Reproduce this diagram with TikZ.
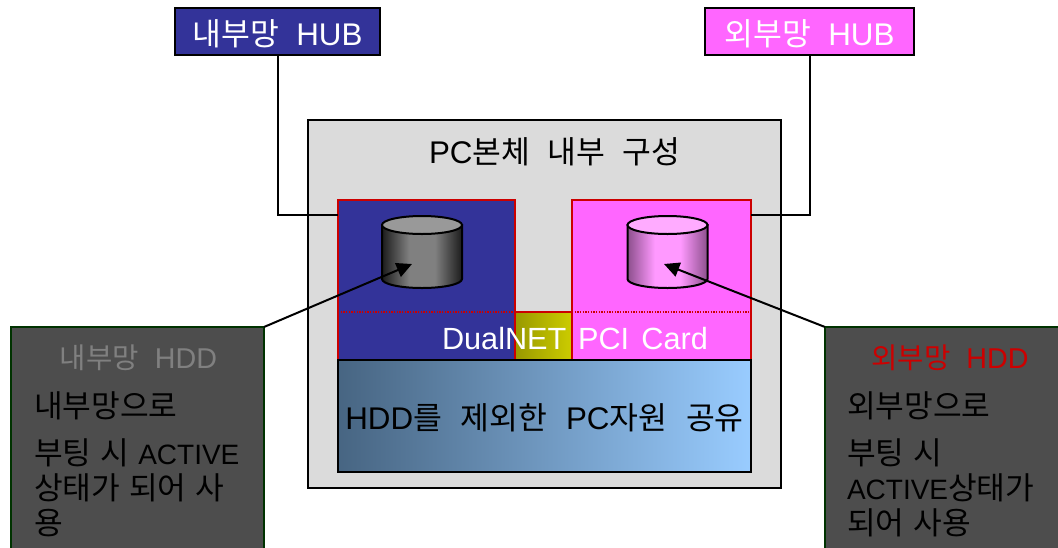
\documentclass[tikz,border=0pt]{standalone}
\usepackage{fontspec}
\setmainfont[WordSpace=2]{Liberation Sans}
\newfontfamily\krfont[WordSpace=2.5]{Noto Sans CJK KR}
\newfontfamily\krnotefont[WordSpace=1.3]{Noto Sans CJK KR}
\newcommand{\kr}[1]{{\krfont #1}}
\newcommand{\krn}[1]{{\fontsize{23.4}{26}\krnotefont #1}}
\newcommand{\latn}[1]{{\fontsize{21}{26}\selectfont #1}}
\usepackage{tikz}
\usetikzlibrary{arrows.meta}
\usetikzlibrary{shapes}

\definecolor{netblue}{HTML}{333399}
\definecolor{netpink}{HTML}{FF66FF}
\definecolor{cardred}{HTML}{CC0000}
\definecolor{boxgrey}{HTML}{4D4D4D}
\definecolor{boxedge}{HTML}{003300}
\definecolor{hddgreyend}{HTML}{1C1C1C}
\definecolor{hddgreymid}{HTML}{808080}
\definecolor{hddpinkend}{HTML}{8C4F8C}
\definecolor{hddpinkmid}{HTML}{FF99FF}
\pgfdeclarehorizontalshading{hddgrey}{100bp}{color(0bp)=(hddgreyend); color(25bp)=(hddgreyend); color(42bp)=(hddgreymid); color(58bp)=(hddgreymid); color(75bp)=(hddgreyend); color(100bp)=(hddgreyend)}
\pgfdeclarehorizontalshading{hddpink}{100bp}{color(0bp)=(hddpinkend); color(25bp)=(hddpinkend); color(42bp)=(hddpinkmid); color(58bp)=(hddpinkmid); color(75bp)=(hddpinkend); color(100bp)=(hddpinkend)}

\begin{document}
\begin{tikzpicture}[x=0.75pt,y=-0.75pt,>={Stealth[length=11.5pt,width=11pt,inset=0pt]},semithick]
\tikzstyle{every node}=[inner sep=0pt,outer sep=0pt,font=\fontsize{23.5}{26}\selectfont]
\tikzstyle{hub}=[draw=black,line width=1.5pt,minimum height=35.25pt,text=white,text height=21pt,text depth=0pt]
\tikzstyle{card}=[draw=cardred,line width=1.5pt,minimum height=120pt]
\tikzstyle{hddbox}=[draw=boxedge,line width=1pt,fill=boxgrey,minimum height=180pt]
\tikzstyle{hddbody}=[minimum width=60pt,minimum height=40.5pt]
\tikzstyle{hddtop}=[draw=black,line width=1.5pt,ellipse,minimum width=60pt,minimum height=13.5pt]
\tikzstyle{link}=[draw=black,line width=1.5pt]
\tikzstyle{note}=[anchor=north west,align=left,text=black]
\tikzstyle{notehead}=[font=\fontsize{21.5}{26}\selectfont]

\clip (0,0) rectangle (1058,547);
\fill[white] (0,0) rectangle (1058,547);

\path
node[hub,fill=netblue,minimum width=153.75pt] (hubin) at (277.5,31.5) {\kr{내부망} HUB}
node[hub,fill=netpink,minimum width=156.75pt] (hubout) at (809.5,31.5) {\kr{외부망} HUB}
node[draw=black,line width=1.5pt,fill=black!14,minimum width=354.75pt,minimum height=276pt] (pcbox) at (544.5,304) {}
(pcbox.north) ++ (10,32) node (pctitle) {PC\kr{본체\hspace{0.55em}내부\hspace{0.55em}구성}}
node[card,fill=netblue,minimum width=132.75pt] (cardin) at (426.5,280) {}
node[card,fill=netpink,minimum width=134.25pt] (cardout) at (661.5,280) {}
node[card,left color={rgb,255:red,153;green,153;blue,0},right color={rgb,255:red,204;green,204;blue,0},minimum width=42.75pt,minimum height=36pt] (cardmid) at (543.5,336) {}
node[draw=black,line width=1.5pt,left color={rgb,255:red,71;green,101;blue,130},right color={rgb,255:red,153;green,204;blue,255},minimum width=309.75pt,minimum height=84pt,text height=20pt,text depth=0pt] (share) at (544.5,416) {HDD\kr{를\hspace{0.6em}제외한}\hspace{0.6em}PC\kr{자원\hspace{0.6em}공유}}
(cardmid.center) ++ (31.5,3) node[text=white,font=\fontsize{23}{26}\selectfont] (cardtext) {DualNET\hspace{0.38em}PCI\hspace{0.4em}Card}
node[hddbody] (hddin) at (422,252) {}
node[hddbody] (hddout) at (667.5,252) {}
node[hddbox,minimum width=189.75pt] (noteinbox) at (137.5,447) {}
node[hddbox,minimum width=195pt] (noteoutbox) at (955,447) {}
(noteinbox.north) ++ (1,31) node[notehead,text=black!50] (noteintitle) {\kr{내부망} HDD}
(noteoutbox.north) ++ (-5,31) node[notehead,text=cardred] (noteouttitle) {\kr{외부망} HDD}
(noteinbox.north west) ++ (23,65) node[note] (noteinline) {\krn{내부망으로}}
(noteinbox.north west) ++ (23,112) node[note] (noteinrest) {\krn{부팅 시 }\latn{ACTIVE}\\\krn{상태가 되어 사}\\\krn{용}}
(noteoutbox.north west) ++ (22,65) node[note] (noteoutline) {\krn{외부망으로}}
(noteoutbox.north west) ++ (22,112) node[note] (noteoutrest) {\krn{부팅 시}\\\latn{ACTIVE}\krn{상태가}\\\krn{되어 사용}};

\coordinate (portin) at (338,215);
\coordinate (portout) at (751,215);
\coordinate (tipin) at (412,264);
\coordinate (tipout) at (664,264);

\draw[cardred,densely dotted,line width=1pt] (cardin.west |- cardmid.north) -- (cardin.east |- cardmid.north);
\draw[cardred,densely dotted,line width=1pt] (cardout.west |- cardmid.north) -- (cardout.east |- cardmid.north);

\path[draw=black,line width=1.5pt,shading=hddgrey]
  (hddin.north west) -- (hddin.south west)
  arc[start angle=180,end angle=360,x radius=30pt,y radius=6.75pt]
  -- (hddin.north east) -- cycle;
\path[draw=black,line width=1.5pt,shading=hddpink]
  (hddout.north west) -- (hddout.south west)
  arc[start angle=180,end angle=360,x radius=30pt,y radius=6.75pt]
  -- (hddout.north east) -- cycle;
\node[hddtop,fill=black!40] (hddintop) at (hddin.north) {};
\node[hddtop,fill=netpink!55!white] (hddouttop) at (hddout.north) {};

\draw[link] (hubin.south) |- (portin);
\draw[link] (hubout.south) |- (portout);
\draw[link,->] (noteinbox.north east) -- (tipin);
\draw[link,->] (noteoutbox.north west) -- (tipout);
\end{tikzpicture}
\end{document}
